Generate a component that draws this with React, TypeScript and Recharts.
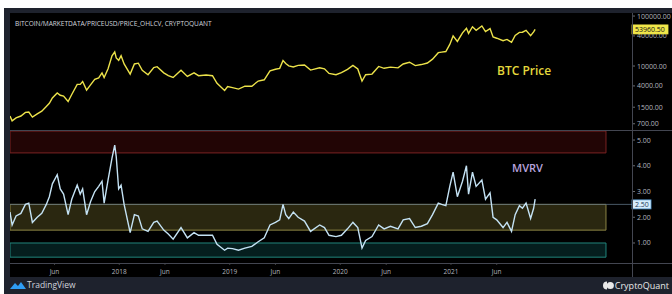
import { LineChart, Line, XAxis, YAxis, ReferenceArea, ReferenceLine } from 'recharts';

const dates = [
  '2017-01-05', '2017-01-12', '2017-01-25', '2017-02-10', '2017-02-25', '2017-03-08', '2017-03-20',
  '2017-04-05', '2017-04-20', '2017-05-05', '2017-05-15', '2017-05-25', '2017-06-10', '2017-06-20',
  '2017-07-01', '2017-07-16', '2017-07-28', '2017-08-15', '2017-08-25', '2017-09-02', '2017-09-15',
  '2017-09-28', '2017-10-12', '2017-10-25', '2017-11-05', '2017-11-12', '2017-11-25', '2017-12-08',
  '2017-12-17', '2017-12-22', '2017-12-30', '2018-01-07', '2018-01-17', '2018-02-06', '2018-02-20',
  '2018-03-05', '2018-03-18', '2018-04-06', '2018-04-25', '2018-05-06', '2018-05-28', '2018-06-12',
  '2018-06-28', '2018-07-24', '2018-08-14', '2018-09-05', '2018-09-20', '2018-10-15', '2018-11-05',
  '2018-11-20', '2018-12-15', '2018-12-25', '2019-01-10', '2019-01-30', '2019-02-20', '2019-03-15',
  '2019-04-05', '2019-04-25', '2019-05-14', '2019-06-01', '2019-06-15', '2019-06-26', '2019-07-05',
  '2019-07-15', '2019-07-30', '2019-08-15', '2019-09-05', '2019-09-25', '2019-10-25', '2019-11-10',
  '2019-11-25', '2019-12-18', '2020-01-05', '2020-01-25', '2020-02-12', '2020-02-28', '2020-03-13',
  '2020-03-25', '2020-04-15', '2020-05-07', '2020-05-25', '2020-06-15', '2020-07-10', '2020-07-27',
  '2020-08-17', '2020-09-05', '2020-09-25', '2020-10-15', '2020-11-01', '2020-11-20', '2020-12-01',
  '2020-12-15', '2020-12-28', '2021-01-08', '2021-01-22', '2021-02-08', '2021-02-21', '2021-02-28',
  '2021-03-13', '2021-03-25', '2021-04-13', '2021-04-25', '2021-05-10', '2021-05-20', '2021-06-01',
  '2021-06-22', '2021-07-05', '2021-07-20', '2021-08-01', '2021-08-15', '2021-08-25', '2021-09-06',
  '2021-09-21', '2021-10-01', '2021-10-06',
];

const btcPrice = [
  1000, 800, 920, 1000, 1180, 1200, 950,
  1100, 1250, 1550, 1800, 2300, 2900, 2600,
  2500, 1950, 2700, 4300, 4300, 4900, 3300,
  4200, 5400, 5800, 7300, 5900, 8800, 16000,
  19200, 14500, 13000, 16000, 11000, 6900, 11000,
  11400, 8200, 6700, 9300, 9700, 7300, 6400,
  5900, 8200, 6200, 7300, 6400, 6600, 6400,
  4500, 3250, 3900, 3700, 3450, 3950, 3950,
  5000, 5300, 8000, 8600, 9000, 12900, 11200,
  10100, 9600, 10300, 10500, 8300, 9200, 8800,
  7100, 6700, 7400, 8600, 10300, 8700, 5000,
  6700, 6900, 9800, 9000, 9500, 9200, 11000,
  11900, 10200, 10700, 11500, 13700, 18500, 19000,
  19500, 27000, 40000, 31000, 46000, 57000, 45000,
  61000, 52000, 63500, 49000, 56000, 38000, 36000,
  32000, 34000, 29800, 41000, 47000, 47500, 51700,
  40500, 48000, 53960.5,
];

const mvrv = [
  2.2, 1.7, 2.05, 2.15, 2.5, 2.55, 1.8,
  2.0, 2.15, 2.5, 2.8, 3.3, 3.65, 3.1,
  2.9, 2.1, 2.7, 3.25, 2.9, 3.1, 2.1,
  2.6, 3.0, 3.2, 3.4, 2.55, 3.45, 4.3,
  4.8, 4.35, 3.1, 3.25, 2.5, 1.4, 2.1,
  2.05, 1.55, 1.45, 1.8, 1.85, 1.5, 1.35,
  1.15, 1.6, 1.2, 1.4, 1.3, 1.3, 1.3,
  0.95, 0.72, 0.8, 0.78, 0.72, 0.8, 0.87,
  1.05, 1.2, 1.7, 1.8, 1.9, 2.5, 2.1,
  1.95, 2.2, 2.0, 1.85, 1.45, 1.7, 1.6,
  1.3, 1.25, 1.3, 1.55, 1.8, 1.6, 0.8,
  1.1, 1.25, 1.7, 1.55, 1.65, 1.55, 1.9,
  1.95, 1.6, 1.65, 1.75, 2.1, 2.55, 2.5,
  2.45, 3.2, 3.75, 2.8, 3.4, 4.0, 2.9,
  3.75, 3.2, 3.45, 2.7, 2.95, 2.0, 1.9,
  1.6, 1.8, 1.45, 2.1, 2.45, 2.35, 2.55,
  1.95, 2.35, 2.7,
];

const priceTicks = [700, 1500, 4000, 10000, 40000, 100000];
const mvrvTicks = [1, 2, 3, 4, 5];
const timeTicks = [
  '2017-06-01', '2018-01-01', '2018-06-01', '2019-01-01', '2019-06-01',
  '2020-01-01', '2020-06-01', '2021-01-01', '2021-06-01',
];
const timeLabels = ['Jun', '2018', 'Jun', '2019', 'Jun', '2020', 'Jun', '2021', 'Jun'];

// MVRV zones: [bottom, top]
const zoneLevels = [
  [4.5, 5.35],
  [1.5, 2.5],
  [0.45, 1.0],
];
const zoneStyles = [
  { fill: '#220505', stroke: '#7a2222' },
  { fill: '#2a2710', stroke: '#8c8444' },
  { fill: '#051e1e', stroke: '#21857c' },
];

const currentMvrv = 2.5;
const currentPrice = 53960.5;

const xStart = Date.parse('2017-01-05');
const xEnd = Date.parse('2022-08-22');
const zoneEnd = Date.parse('2022-05-28');

const rows = dates.map((d, i) => ({ t: Date.parse(d), price: btcPrice[i], mvrv: mvrv[i] }));
const tickNums = timeTicks.map((d) => Date.parse(d));

const FONT = '"Open Sans", "DejaVu Sans", sans-serif';
const AXIS_TEXT = '#b2b5be';
const SEP = '#434651';
const PRICE_DOMAIN = [525, 115000];

function PriceTag(props: any) {
  const { viewBox, text, bg, color, border } = props;
  if (!viewBox) return null;
  const x = viewBox.x + viewBox.width;
  const y = viewBox.y;
  return (
    <g>
      <rect x={x} y={y - 4.5} width={props.w} height={9} fill={bg} stroke={border || bg} strokeWidth={0.8} />
      <text x={x + 3} y={y + 2.5} fontSize={7} fill={color} fontFamily={FONT}>{text}</text>
    </g>
  );
}

export default function App() {
  return (
    <div style={{ position: 'absolute', left: 0, top: 0, width: 672, height: 294, background: '#fff', overflow: 'hidden', fontFamily: FONT }}>
      {/* dark frame */}
      <div style={{ position: 'absolute', left: 4, top: 8, width: 668, height: 286, background: '#1e222d' }} />
      <div style={{ position: 'absolute', left: 10, top: 13, width: 662, height: 264, background: '#000' }} />

      <div style={{ position: 'absolute', left: 10, top: 13 }}>
        <LineChart width={662} height={117} data={rows} margin={{ top: 0, right: 0, bottom: 0, left: 0 }}>
          <XAxis dataKey="t" type="number" domain={[xStart, xEnd]} hide allowDataOverflow />
          <YAxis
            orientation="right"
            width={40}
            scale="log"
            domain={PRICE_DOMAIN}
            ticks={priceTicks}
            allowDataOverflow
            interval={0}
            axisLine={false}
            tickLine={{ stroke: AXIS_TEXT, strokeWidth: 0.6 }}
            tickSize={3}
            tickMargin={2}
            tick={{ fill: AXIS_TEXT, fontSize: 7, fontFamily: FONT }}
            tickFormatter={(v: number) => v.toFixed(2)}
          />
          <Line dataKey="price" stroke="#ece24a" strokeWidth={1.4} dot={false} isAnimationActive={false} />
        </LineChart>
      </div>

      {/* last-price tag, drawn over the axis labels */}
      <div style={{ position: 'absolute', left: 10, top: 13 }}>
        <LineChart width={662} height={117} data={rows} margin={{ top: 0, right: 0, bottom: 0, left: 0 }}>
          <XAxis dataKey="t" type="number" domain={[xStart, xEnd]} hide allowDataOverflow />
          <YAxis orientation="right" width={40} scale="log" domain={PRICE_DOMAIN} allowDataOverflow tick={false} axisLine={false} tickLine={false} />
          <ReferenceLine
            y={currentPrice}
            stroke="none"
            label={<PriceTag text={currentPrice.toFixed(2)} bg="#f1e74a" color="#111" w={36} />}
          />
        </LineChart>
      </div>

      <div style={{ position: 'absolute', left: 10, top: 130 }}>
        <LineChart width={662} height={147} data={rows} margin={{ top: 0, right: 0, bottom: 0, left: 0 }}>
          <XAxis
            dataKey="t"
            type="number"
            domain={[xStart, xEnd]}
            allowDataOverflow
            ticks={tickNums}
            interval={0}
            height={14}
            axisLine={false}
            tickLine={{ stroke: '#666', strokeWidth: 0.6 }}
            tickSize={2}
            tickMargin={4}
            tick={{ fill: AXIS_TEXT, fontSize: 6.5, fontFamily: FONT }}
            tickFormatter={(v: number) => timeLabels[tickNums.indexOf(v)] ?? ''}
          />
          <YAxis
            orientation="right"
            width={40}
            domain={[0.223, 5.39]}
            ticks={mvrvTicks}
            allowDataOverflow
            interval={0}
            axisLine={false}
            tickLine={{ stroke: AXIS_TEXT, strokeWidth: 0.6 }}
            tickSize={3}
            tickMargin={2}
            tick={{ fill: AXIS_TEXT, fontSize: 7, fontFamily: FONT }}
            tickFormatter={(v: number) => v.toFixed(2)}
          />
          {zoneLevels.map(([lo, hi], i) => (
            <ReferenceArea
              key={i}
              x1={xStart}
              x2={zoneEnd}
              y1={lo}
              y2={hi}
              fill={zoneStyles[i].fill}
              fillOpacity={1}
              stroke={zoneStyles[i].stroke}
              strokeWidth={1}
              ifOverflow="hidden"
            />
          ))}
          <ReferenceLine
            y={currentMvrv}
            stroke="#5b6f80"
            strokeWidth={0.8}
            label={<PriceTag text={currentMvrv.toFixed(2)} bg="#d6ecfb" color="#1b3a5a" border="#5aa0d8" w={19} />}
          />
          <Line dataKey="mvrv" stroke="#c4e2f4" strokeWidth={1.4} dot={false} isAnimationActive={false} />
        </LineChart>
      </div>

      {/* pane separators */}
      <div style={{ position: 'absolute', left: 10, top: 130, width: 662, height: 1, background: SEP }} />
      <div style={{ position: 'absolute', left: 10, top: 263, width: 662, height: 1, background: SEP }} />
      <div style={{ position: 'absolute', left: 632, top: 13, width: 1, height: 264, background: SEP }} />

      <div style={{ position: 'absolute', left: 15, top: 19, fontSize: 6.6, color: '#d1d4dc', letterSpacing: -0.05, whiteSpace: 'nowrap' }}>
        BITCOIN/MARKETDATA/PRICEUSD/PRICE_OHLCV, CRYPTOQUANT
      </div>
      <div style={{ position: 'absolute', left: 497, top: 62, fontSize: 12, fontWeight: 600, color: '#e4d83c', whiteSpace: 'nowrap' }}>
        BTC Price
      </div>
      <div style={{ position: 'absolute', left: 512, top: 160, fontSize: 11, fontWeight: 600, color: '#b7a3dc', whiteSpace: 'nowrap' }}>
        MVRV
      </div>

      {/* footer */}
      <svg style={{ position: 'absolute', left: 10, top: 280 }} width={16} height={10} viewBox="0 0 16 10">
        <path d="M0 9 L5 3 L8 6 L11 2 L16 9 Z" fill="#2e9cf3" />
      </svg>
      <div style={{ position: 'absolute', left: 27, top: 279, fontSize: 8.5, color: '#d1d4dc', whiteSpace: 'nowrap' }}>TradingView</div>
      <svg style={{ position: 'absolute', left: 602, top: 281, width: 12, height: 9 }} viewBox="0 0 12 9">
        <path d="M5 0.5 A4 4 0 0 0 5 8.5 Z" fill="#e8e8e8" />
        <circle cx={8.3} cy={4.5} r={3.6} fill="#e8e8e8" />
      </svg>
      <div style={{ position: 'absolute', right: 3, top: 279, fontSize: 9, color: '#e8e8e8', whiteSpace: 'nowrap' }}>CryptoQuant</div>
    </div>
  );
}
